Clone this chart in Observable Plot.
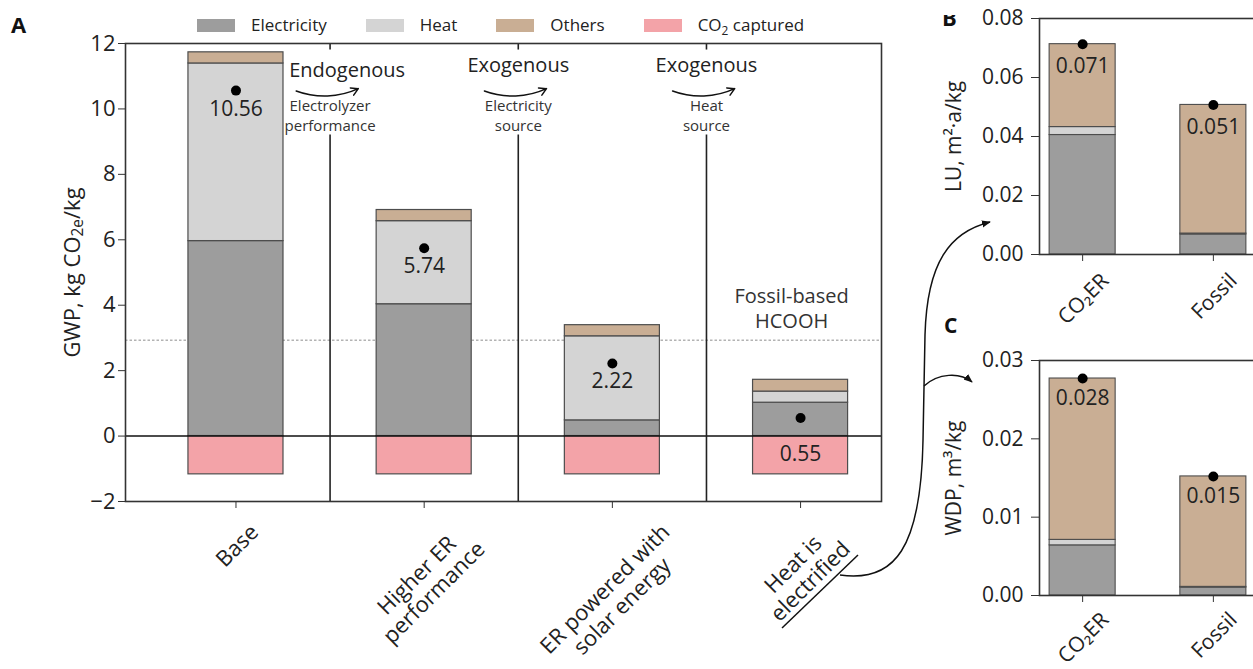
<!DOCTYPE html>
<html><head><meta charset="utf-8">
<script src="https://cdn.jsdelivr.net/npm/d3@7"></script>
<script src="https://cdn.jsdelivr.net/npm/@observablehq/plot@0.6"></script>
<style>
html,body{margin:0;padding:0;background:#fff;overflow:hidden;}
#root{position:relative;width:1253px;height:669px;overflow:hidden;font-family:"Open Sans",sans-serif;color:#222;}
.panel{position:absolute;}
.legend{position:absolute;left:197px;top:16px;height:18px;display:flex;align-items:center;font-size:17px;line-height:18px;white-space:nowrap;}
.legend .item{display:flex;align-items:center;margin-right:39px;}
.legend .sw{display:inline-block;width:38px;height:13px;margin-right:16px;}
.legend sub{font-size:70%;vertical-align:-0.3em;line-height:0;}
#overlay{position:absolute;left:0;top:0;pointer-events:none;}
</style></head><body><div id="root"></div>
<script>
// ---------------- data ----------------
const scenarios = ["Base", "Higher ER\nperformance", "ER powered with\nsolar energy", "Heat is\nelectrified"];
const components = ["Electricity", "Heat", "Others", "CO₂ captured"];
const componentColors = ["#9d9d9d", "#d4d4d4", "#c9ae94", "#f3a3a8"];
const gwpElectricity = [5.96, 4.03, 0.48, 1.02];
const gwpHeat = [5.43, 2.54, 2.57, 0.34];
const gwpOthers = [0.34, 0.34, 0.34, 0.36];
const gwpCaptured = [-1.17, -1.17, -1.17, -1.17];
const gwpTicks = [-2, 0, 2, 4, 6, 8, 10, 12];
const fossilGwp = 2.93;
const fossilLabel = "Fossil-based\nHCOOH";
const transitionType = ["Endogenous", "Exogenous", "Exogenous"];
const transitionDriver = ["Electrolyzer\nperformance", "Electricity\nsource", "Heat\nsource"];

const systems = ["CO₂ER", "Fossil"];
const luElectricity = [0.0405, 0.0068];
const luHeat = [0.0027, 0.0003];
const luOthers = [0.0281, 0.0436];
const luTicks = [0, 0.02, 0.04, 0.06, 0.08];
const wdpElectricity = [0.0064, 0.0010];
const wdpHeat = [0.0007, 0.0001];
const wdpOthers = [0.0206, 0.0141];
const wdpTicks = [0, 0.01, 0.02, 0.03];

// ---------------- helpers ----------------
function stackRows(series) {
  const rows = [];
  const n = series[0][1].length;
  for (let i = 0; i < n; i++) {
    let pos = 0, neg = 0;
    for (const [component, values] of series) {
      const v = values[i];
      if (v >= 0) { rows.push({i, component, y1: pos, y2: pos + v}); pos += v; }
      else { rows.push({i, component, y1: neg + v, y2: neg}); neg += v; }
    }
  }
  return rows;
}
function netRows(series) {
  const n = series[0][1].length;
  return d3.range(n).map(i => ({i, net: d3.sum(series, s => s[1][i])}));
}
const fmtMinus = d => d < 0 ? "\u2212" + Math.abs(d) : String(d);
const svgStyle = "background: transparent; overflow: visible; font-family: 'Open Sans', sans-serif; color: #222;";
const HALF = 0.2525;
const colorScale = {domain: components, range: componentColors};

const root = document.getElementById("root");
function mount(node, left, top, width) {
  const div = document.createElement("div");
  div.className = "panel";
  div.style.left = left + "px"; div.style.top = top + "px"; div.style.width = width + "px";
  div.appendChild(node);
  root.appendChild(div);
  return node;
}

// ---------------- Panel A ----------------
const aSeries = [["Electricity", gwpElectricity], ["Heat", gwpHeat], ["Others", gwpOthers], ["CO₂ captured", gwpCaptured]];
const aRows = stackRows(aSeries);
const aNet = netRows(aSeries);
const seps = d3.range(1, scenarios.length).map(i => ({i: i - 0.5, type: transitionType[i - 1], driver: transitionDriver[i - 1]}));
const catsA = scenarios.map((s, i) => ({i, s}));

const plotA = Plot.plot({
  width: 900, height: 669,
  marginLeft: 125, marginRight: 19, marginTop: 43, marginBottom: 168,
  style: svgStyle,
  x: {type: "linear", domain: [-0.587, 3.43], axis: null},
  y: {domain: [-2, 12], axis: null},
  color: colorScale,
  marks: [
    Plot.ruleY([fossilGwp], {stroke: "#b3b3b3", strokeWidth: 1.5, strokeDasharray: "2.5,2"}),
    Plot.rect(aRows, {x1: d => d.i - HALF, x2: d => d.i + HALF, y1: "y1", y2: "y2", fill: "component", stroke: "#4d4d4d", strokeWidth: 1.2}),
    Plot.ruleY([0], {stroke: "#111", strokeWidth: 1.6}),
    Plot.ruleX(seps, {x: "i", y1: -2, y2: 9.2, stroke: "#222", strokeWidth: 1.6}),
    Plot.ruleX(seps, {x: "i", y1: 12, y2: 11.8, stroke: "#222", strokeWidth: 1.6}),
    Plot.arrow(seps, {x1: d => d.i - 0.18, x2: d => d.i + 0.15, y1: 10.55, y2: 10.62, bend: -22.5, stroke: "#111", strokeWidth: 1.5, headLength: 8}),
    Plot.text(seps.filter(d => d.type === "Endogenous"), {x: "i", text: "type", frameAnchor: "top", lineAnchor: "bottom", dy: 33, dx: 17, fontSize: 20}),
    Plot.text(seps.filter(d => d.type !== "Endogenous"), {x: "i", text: "type", frameAnchor: "top", lineAnchor: "bottom", dy: 28, fontSize: 20}),
    Plot.text(seps, {x: "i", text: "driver", frameAnchor: "top", lineAnchor: "top", dy: 53, fontSize: 15, lineHeight: 1.35, fill: "#333"}),
    Plot.text([fossilLabel], {x: scenarios.length - 1, y: fossilGwp, text: d => d, dx: -9, dy: -12, lineAnchor: "bottom", fontSize: 20, lineHeight: 1.25, fill: "#333"}),
    Plot.dot(aNet, {x: "i", y: "net", r: 5, fill: "#000", stroke: null}),
    Plot.text(aNet, {x: "i", y: d => d.net < 1 ? 0 : d.net, text: d => d3.format(".2f")(d.net), lineAnchor: "top", dy: 10, fontSize: 21}),
    Plot.axisY({ticks: gwpTicks, tickSize: 7, tickPadding: 3, fontSize: 22, tickFormat: fmtMinus, label: null, stroke: "#333"}),
    Plot.axisX({ticks: d3.range(scenarios.length), tickSize: 7, tickFormat: () => "", label: null, stroke: "#333"}),
    Plot.text(catsA, {x: "i", text: "s", frameAnchor: "bottom", rotate: -45, textAnchor: "middle", lineAnchor: "middle", fontSize: 22, lineHeight: 1.1}),
    Plot.text(["GWP"], {frameAnchor: "left", dx: -53, rotate: -90, text: d => d, textAnchor: "middle", lineAnchor: "middle", fontSize: 22}),
    Plot.frame({stroke: "#333", strokeWidth: 1.6})
  ]
});
mount(plotA, 0, 0, 900);

// ---------------- Panels B and C ----------------
function sidePanel({series, ticks, yDomain, label, height, marginTop, marginBottom, labelDy}) {
  const rows = stackRows(series);
  const net = netRows(series);
  const cats = systems.map((s, i) => ({i, s}));
  return Plot.plot({
    width: 356, height,
    marginLeft: 139, marginRight: 0, marginTop, marginBottom,
    style: svgStyle,
    x: {type: "linear", domain: [-0.33, 1.33], axis: null},
    y: {domain: yDomain, axis: null},
    color: colorScale,
    marks: [
      Plot.rect(rows, {x1: d => d.i - HALF, x2: d => d.i + HALF, y1: "y1", y2: "y2", fill: "component", stroke: "#4d4d4d", strokeWidth: 1.1}),
      Plot.dot(net, {x: "i", y: "net", r: 5, fill: "#000", stroke: null}),
      Plot.text(net, {x: "i", y: "net", text: d => d3.format(".3f")(d.net), lineAnchor: "top", dy: labelDy, fontSize: 21}),
      Plot.axisY({ticks, tickSize: 8, tickPadding: 8, fontSize: 21, tickFormat: d3.format(".2f"), label: null, stroke: "#333"}),
      Plot.axisX({ticks: d3.range(systems.length), tickSize: 7, tickFormat: () => "", label: null, stroke: "#333"}),
      Plot.text(cats, {x: "i", text: "s", frameAnchor: "bottom", rotate: -45, textAnchor: "middle", lineAnchor: "middle", fontSize: 21}),
      Plot.text([label], {frameAnchor: "left", dx: -85, rotate: -90, text: d => d, textAnchor: "middle", lineAnchor: "middle", fontSize: 21}),
      Plot.frame({stroke: "#333", strokeWidth: 1.6})
    ]
  });
}
const plotB = sidePanel({
  series: [["Electricity", luElectricity], ["Heat", luHeat], ["Others", luOthers]],
  ticks: luTicks, yDomain: [0, 0.08], label: "LU, m²·a/kg",
  height: 300, marginTop: 18, marginBottom: 46, labelDy: 14
});
mount(plotB, 900, 0, 356);
const plotC = sidePanel({
  series: [["Electricity", wdpElectricity], ["Heat", wdpHeat], ["Others", wdpOthers]],
  ticks: wdpTicks, yDomain: [0, 0.03], label: "WDP, m³/kg",
  height: 369, marginTop: 60, marginBottom: 74, labelDy: 12
});
mount(plotC, 900, 300, 356);

// ---------------- Legend ----------------
const legend = d3.select(root).append("div").attr("class", "legend");
components.forEach((c, k) => {
  const item = legend.append("div").attr("class", "item");
  item.append("span").attr("class", "sw").style("background", componentColors[k]);
  const lab = item.append("span");
  if (c.startsWith("CO₂")) lab.html("CO<sub>2</sub>" + c.slice(3)); else lab.text(c);
});

// ---------------- Overlay: panel letters + connectors ----------------
const ov = d3.select(root).append("svg").attr("id", "overlay").attr("width", 1253).attr("height", 669)
  .style("font-family", "'Open Sans', sans-serif");
const defs = ov.append("defs");
defs.append("marker").attr("id", "head").attr("viewBox", "0 0 10 10").attr("refX", 9).attr("refY", 5)
  .attr("markerWidth", 9).attr("markerHeight", 9).attr("markerUnits", "userSpaceOnUse").attr("orient", "auto")
  .append("path").attr("d", "M0,1 L10,5 L0,9 Z").attr("fill", "#111");
defs.append("clipPath").attr("id", "clipB").append("rect").attr("x", 930).attr("y", 15).attr("width", 40).attr("height", 20);
ov.append("text").attr("x", 11).attr("y", 33).attr("font-size", 22).attr("font-weight", 700).attr("fill", "#111").text("A");
ov.append("text").attr("x", 942).attr("y", 26).attr("font-size", 22).attr("font-weight", 700).attr("fill", "#111").attr("clip-path", "url(#clipB)").text("B");
ov.append("text").attr("x", 944).attr("y", 333).attr("font-size", 21).attr("font-weight", 700).attr("fill", "#111").text("C");
ov.append("line").attr("x1", 782).attr("y1", 628).attr("x2", 858).attr("y2", 555).attr("stroke", "#111").attr("stroke-width", 1.5);
ov.append("path").attr("d", "M840,575 C895,583 921,548 923,440 L925,335 C927,262 950,232 990,222")
  .attr("fill", "none").attr("stroke", "#111").attr("stroke-width", 1.5).attr("marker-end", "url(#head)");
ov.append("path").attr("d", "M924,386 C938,373 960,372 972,382")
  .attr("fill", "none").attr("stroke", "#111").attr("stroke-width", 1.5).attr("marker-end", "url(#head)");

// ---------------- post-layout: rotated category labels, subscripted y label ----------------
function rotatedTexts(svgNode, angle) {
  const re = new RegExp("rotate\\(\\s*" + angle + "\\s*\\)");
  return d3.select(svgNode).selectAll("text").filter(function() { return re.test(this.getAttribute("transform") || ""); });
}
function placeRotated(svgNode, topY) {
  rotatedTexts(svgNode, -45).each(function() {
    const b = this.getBBox();
    const cx = b.x + b.width / 2, cy = b.y + b.height / 2;
    const H = (b.width + b.height) / Math.SQRT2;
    const m = /translate\(\s*([-\d.e]+)[ ,]+([-\d.e]+)\)/.exec(this.getAttribute("transform"));
    if (!m) return;
    const tickX = +m[1];
    const xr = (cx + cy) / Math.SQRT2, yr = (cy - cx) / Math.SQRT2;
    this.setAttribute("transform", `translate(${tickX - xr},${topY + H / 2 - yr}) rotate(-45)`);
  });
}
function finish() {
  try {
    placeRotated(plotA, 516);
    placeRotated(plotB, 266);
    placeRotated(plotC, 305);
    rotatedTexts(plotA, -90).filter(function() { return this.textContent === "GWP"; }).each(function() {
      const yl = d3.select(this);
      yl.text("");
      yl.append("tspan").text("GWP, kg CO");
      yl.append("tspan").attr("font-size", "70%").attr("baseline-shift", "-22%").text("2e");
      yl.append("tspan").text("/kg");
    });
  } catch (e) { console.error(e); }
}
finish();
</script></body></html>
